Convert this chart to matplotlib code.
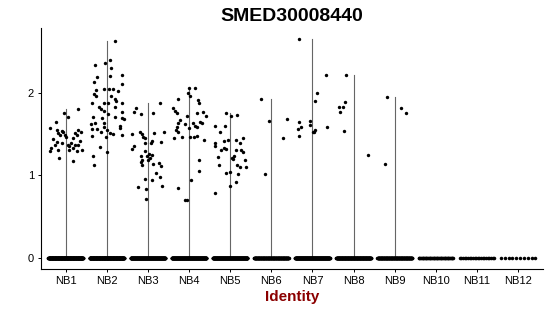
import numpy as np
import matplotlib
matplotlib.use("Agg")
import matplotlib.pyplot as plt

plt.rcParams['font.family'] = ['Liberation Sans', 'DejaVu Sans']

# groups and their expression values (non-zero cells)
groups = ['NB1', 'NB2', 'NB3', 'NB4', 'NB5', 'NB6',
          'NB7', 'NB8', 'NB9', 'NB10', 'NB11', 'NB12']

nb1_vals = [1.75, 1.71, 1.80, 1.65, 1.57, 1.55, 1.54, 1.52, 1.49, 1.51, 1.49, 1.55,
            1.53, 1.51, 1.49, 1.45, 1.46, 1.44, 1.40, 1.37, 1.39, 1.37, 1.35, 1.39,
            1.37, 1.37, 1.41, 1.33, 1.29, 1.33, 1.29, 1.31, 1.21, 1.17, 1.31, 1.31]
nb2_vals = [2.63, 2.34, 2.36, 2.39, 2.30, 2.19, 2.21, 2.20, 2.13, 2.11, 2.05, 2.04,
            2.04, 2.02, 2.03, 1.99, 1.96, 1.96, 1.92, 1.90, 1.87, 1.83, 1.80, 1.78,
            1.88, 1.87, 1.87, 1.83, 1.77, 1.71, 1.74, 1.69, 1.71, 1.69, 1.68, 1.63,
            1.62, 1.63, 1.56, 1.56, 1.59, 1.53, 1.51, 1.50, 1.55, 1.60, 1.57, 1.49,
            1.46, 1.48, 1.34, 1.28, 1.23, 1.13]
nb3_vals = [1.88, 1.81, 1.77, 1.74, 1.75, 1.50, 1.53, 1.50, 1.46, 1.45, 1.51, 1.52,
            1.41, 1.39, 1.39, 1.40, 1.36, 1.32, 1.29, 1.26, 1.24, 1.25, 1.23, 1.19,
            1.19, 1.21, 1.16, 1.13, 1.14, 1.15, 1.11, 1.03, 0.98, 0.96, 0.95, 0.87,
            0.86, 0.84, 0.72]
nb4_vals = [2.06, 2.06, 2.00, 1.96, 1.92, 1.91, 1.88, 1.81, 1.78, 1.75, 1.72, 1.75,
            1.77, 1.72, 1.67, 1.65, 1.63, 1.63, 1.62, 1.63, 1.60, 1.59, 1.55, 1.53,
            1.57, 1.59, 1.45, 1.47, 1.46, 1.46, 1.48, 1.43, 1.18, 1.05, 0.85, 0.95,
            0.70, 0.70]
nb5_vals = [1.76, 1.72, 1.73, 1.60, 1.60, 1.52, 1.45, 1.43, 1.42, 1.43, 1.39, 1.39,
            1.36, 1.31, 1.33, 1.32, 1.31, 1.31, 1.28, 1.24, 1.22, 1.21, 1.20, 1.19,
            1.13, 1.13, 1.10, 1.10, 1.03, 1.04, 1.02, 0.92, 0.87, 0.79]
nb6_vals = [1.92, 1.66, 1.45, 1.68, 1.02]
nb7_vals = [2.65, 2.22, 2.00, 1.90, 1.66, 1.64, 1.58, 1.56, 1.61, 1.55, 1.53, 1.52,
            1.48, 1.59]
nb8_vals = [2.21, 1.83, 1.83, 1.77, 1.89, 1.54, 1.25]
nb9_vals = [1.95, 1.82, 1.75, 1.14]
nb10_vals = []
nb11_vals = []
nb12_vals = []

# horizontal jitter of each non-zero point (category units)
nb1_jit = [-0.03, 0.05, 0.29, -0.24, -0.38, -0.22, -0.10, -0.06, -0.02, -0.18, -0.14, 0.31,
           0.37, 0.23, 0.27, 0.19, 0.02, -0.30, -0.22, -0.26, -0.10, 0.05, 0.08, 0.13,
           0.23, 0.31, 0.35, 0.19, 0.27, -0.36, -0.38, -0.18, -0.15, 0.19, 0.39, 0.07]
nb2_jit = [0.20, -0.28, -0.04, 0.08, 0.10, -0.24, 0.37, 0.07, -0.32, 0.37, -0.07, 0.05,
           0.16, 0.27, -0.26, -0.30, -0.26, 0.10, 0.19, 0.23, -0.36, -0.20, -0.15, -0.08,
           0.02, -0.06, 0.37, 0.19, 0.37, -0.34, 0.02, -0.11, 0.19, 0.37, 0.41, -0.28,
           -0.38, -0.06, -0.36, -0.24, -0.06, -0.15, 0.08, 0.15, 0.00, 0.31, 0.32, 0.37,
           -0.02, -0.36, -0.16, 0.00, -0.34, -0.32]
nb3_jit = [0.29, -0.30, -0.34, -0.16, 0.13, -0.38, -0.20, -0.14, -0.11, -0.08, 0.15, 0.39,
           0.10, 0.08, -0.08, 0.32, -0.34, -0.38, -0.08, 0.02, -0.03, 0.10, -0.16, -0.14,
           0.00, 0.05, -0.16, -0.14, 0.13, 0.27, 0.32, 0.19, 0.29, -0.08, 0.10, 0.33,
           -0.24, -0.04, -0.05]
nb4_jit = [0.00, 0.15, -0.02, 0.02, -0.26, 0.21, 0.23, -0.38, -0.34, -0.29, -0.06, 0.19,
           0.35, 0.41, -0.22, 0.27, 0.31, -0.26, -0.11, 0.10, 0.15, -0.30, -0.32, -0.26,
           0.00, 0.19, -0.36, -0.18, 0.02, 0.13, 0.19, 0.37, 0.24, 0.24, -0.26, 0.04,
           -0.10, -0.05]
nb5_jit = [-0.11, 0.02, 0.16, -0.36, -0.12, -0.24, 0.31, 0.13, -0.14, -0.06, 0.23, -0.36,
           -0.38, -0.22, -0.14, -0.10, 0.15, 0.27, 0.31, 0.10, -0.30, 0.04, 0.08, 0.37,
           -0.28, 0.16, 0.24, 0.39, -0.11, 0.00, 0.20, 0.15, 0.00, -0.37]
nb6_jit = [-0.25, -0.05, 0.28, 0.38, -0.16]
nb7_jit = [-0.32, 0.34, 0.10, 0.06, -0.05, -0.32, -0.27, -0.36, -0.07, 0.07, 0.03, 0.02,
           -0.32, 0.36]
nb8_jit = [-0.18, -0.36, -0.25, -0.33, -0.20, -0.24, 0.36]
nb9_jit = [-0.18, 0.15, 0.27, -0.24]
nb10_jit = []
nb11_jit = []
nb12_jit = []

# number of cells with zero expression in each group (estimated)
zero_counts = [300, 300, 260, 260, 260, 160, 260, 220, 160, 45, 22, 10]

all_vals = [nb1_vals, nb2_vals, nb3_vals, nb4_vals, nb5_vals, nb6_vals,
            nb7_vals, nb8_vals, nb9_vals, nb10_vals, nb11_vals, nb12_vals]
all_jit = [nb1_jit, nb2_jit, nb3_jit, nb4_jit, nb5_jit, nb6_jit,
           nb7_jit, nb8_jit, nb9_jit, nb10_jit, nb11_jit, nb12_jit]

fig = plt.figure(figsize=(5.5, 3.16), dpi=100)
ax = fig.add_axes([0.0745, 0.1487, 0.9125, 0.7627])

for i, (vals, jit, nz) in enumerate(zip(all_vals, all_jit, zero_counts)):
    pos = i + 1
    # collapsed violin: thin line from 0 up to the group maximum
    if vals:
        ax.plot([pos, pos], [0, max(vals)], color='#666666', lw=0.8, zorder=1)
    # zero cells spread across the jitter width
    zx = pos + np.linspace(-0.42, 0.42, nz)
    ax.scatter(zx, np.zeros(nz), s=6.5, color='black', linewidths=0, zorder=2)
    # non-zero cells
    ax.scatter(pos + np.array(jit), vals, s=6, color='black', linewidths=0, zorder=2)

ax.set_xlim(0.4, 12.6)
ax.set_ylim(-0.1325, 2.7825)
ax.set_xticks(range(1, len(groups) + 1))
ax.set_xticklabels(groups)
ax.set_yticks([0, 1, 2])
ax.set_yticklabels(['0', '1', '2'])

for side in ['top', 'right']:
    ax.spines[side].set_visible(False)
for side in ['left', 'bottom']:
    ax.spines[side].set_linewidth(0.8)
ax.tick_params(axis='both', length=2.5, width=0.7, labelsize=8,
               colors='black', pad=2.5)

ax.set_title('SMED30008440', fontsize=14, fontweight='bold', pad=5)
ax.set_xlabel('Identity', fontsize=11, fontweight='bold', color='#8B0000',
              labelpad=3)

fig.savefig('out.png', dpi=100)
